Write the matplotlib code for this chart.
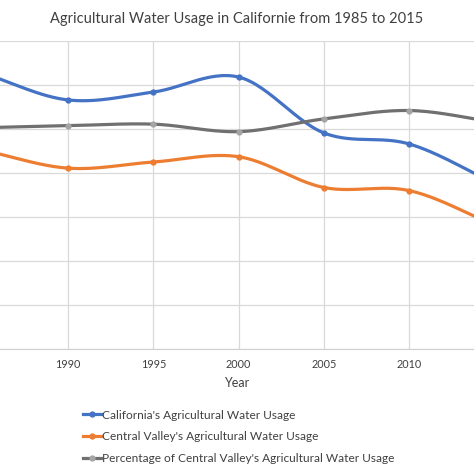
import numpy as np
import matplotlib
matplotlib.use('Agg')
import matplotlib.pyplot as plt
from matplotlib.lines import Line2D

plt.rcParams['font.family'] = ['Lato', 'DejaVu Sans']

# data (y axis cut off in the source, units arbitrary)
years = [1985, 1990, 1995, 2000, 2005, 2010, 2015]
california = [62.7, 56.6, 58.4, 61.8, 49.1, 46.6, 37.7]
central_valley = [45.2, 41.1, 42.5, 43.7, 36.7, 36.0, 28.2]
cv_percentage = [50.3, 50.75, 51.1, 49.4, 52.3, 54.2, 51.6]

labels = ["California's Agricultural Water Usage",
          "Central Valley's Agricultural Water Usage",
          "Percentage of Central Valley's Agricultural Water Usage"]


def smooth(x, y, n=30):
    """Excel-like smoothed line (Catmull-Rom through the points)."""
    x = np.asarray(x, float)
    y = np.asarray(y, float)
    px = np.concatenate([[2 * x[0] - x[1]], x, [2 * x[-1] - x[-2]]])
    py = np.concatenate([[2 * y[0] - y[1]], y, [2 * y[-1] - y[-2]]])
    t = np.linspace(0, 1, n)
    xs, ys = [], []
    for i in range(1, len(px) - 2):
        for p, out in ((px, xs), (py, ys)):
            p0, p1, p2, p3 = p[i - 1], p[i], p[i + 1], p[i + 2]
            out.append(0.5 * ((2 * p1) + (-p0 + p2) * t
                              + (2 * p0 - 5 * p1 + 4 * p2 - p3) * t ** 2
                              + (-p0 + 3 * p1 - 3 * p2 + p3) * t ** 3))
    return np.concatenate(xs), np.concatenate(ys)


fig = plt.figure(figsize=(4.74, 4.74), dpi=100)
ax = fig.add_axes([0.0, 0.2637, 1.0, 0.6498])

series = [
    (california, '#4472C4', '#4472C4'),
    (central_valley, '#ED7D31', '#ED7D31'),
    (cv_percentage, '#707070', '#A5A5A5'),
]
handles = []
for vals, col, mcol in series:
    sx, sy = smooth(years, vals)
    ax.plot(sx, sy, color=col, lw=2.3, solid_capstyle='round', zorder=3)
    ax.plot(years, vals, 'o', color=mcol, ms=3.5, zorder=4)
    handles.append(Line2D([], [], color=col, lw=2.3, marker='o', ms=3.5,
                          markerfacecolor=mcol, markeredgecolor=mcol))

ax.set_xlim(1986.0, 2013.8)
ax.set_ylim(0, 70)
ax.set_xticks([1990, 1995, 2000, 2005, 2010])
ax.set_yticks(np.arange(0, 71, 10))
ax.set_yticklabels([])
ax.grid(True, color='#D9D9D9', lw=0.9)
ax.set_axisbelow(True)
for s in ['top', 'right', 'left']:
    ax.spines[s].set_visible(False)
ax.spines['bottom'].set_color('#D0D0D0')
ax.tick_params(axis='both', length=0, labelsize=7.8, labelcolor='#404040', pad=7)
ax.set_xlabel('Year', fontsize=9, color='#404040', labelpad=5)

fig.text(0.5, 0.96, 'Agricultural Water Usage in Californie from 1985 to 2015',
         ha='center', va='center', fontsize=10.5, color='#404040')

fig.legend(handles, labels, loc='upper left', bbox_to_anchor=(0.165, 0.146),
           frameon=False, fontsize=8.6, labelcolor='#404040', handlelength=1.5,
           handletextpad=0.1, labelspacing=0.9, borderaxespad=0)

fig.savefig('out.png', dpi=100)
